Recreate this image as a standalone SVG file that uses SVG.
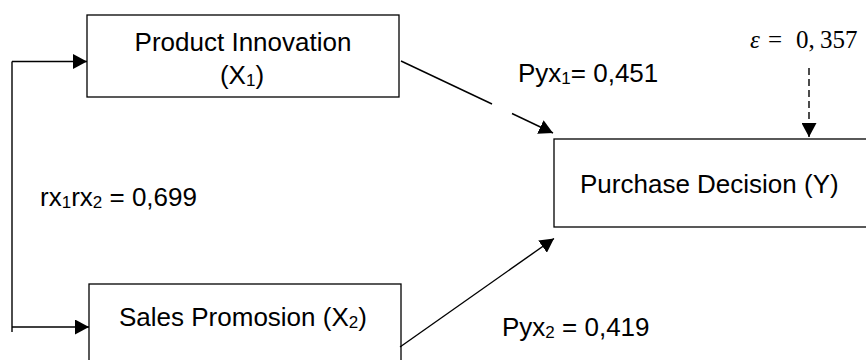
<svg xmlns="http://www.w3.org/2000/svg" width="866" height="360" viewBox="0 0 866 360">
<style>
.box{fill:#fff;stroke:#000;stroke-width:1.3}
.t{font-family:"Liberation Sans",Arial,sans-serif;font-size:26px;fill:#000}
.s{font-size:17px}
.ln{fill:none;stroke:#000;stroke-width:1.4}
.m{font-family:"Liberation Serif","DejaVu Serif",serif;font-size:25px;fill:#000}
</style>
<defs>
<marker id="ah" viewBox="0 0 14 15" refX="14" refY="7.5" markerWidth="14" markerHeight="15" markerUnits="userSpaceOnUse" orient="auto">
<path d="M0,0 L14,7.5 L0,15 Z" fill="#000"/>
</marker>
</defs>
<g id="x1">
<rect class="box" x="87" y="15" width="312" height="82"/>
<text class="t" x="243" y="51" text-anchor="middle">Product Innovation</text>
<text class="t" x="242" y="84" text-anchor="middle">(X<tspan class="s" dy="2">1</tspan><tspan dy="-2">)</tspan></text>
</g>
<g id="y">
<rect class="box" x="554" y="139" width="330" height="88"/>
<text class="t" x="580" y="193">Purchase Decision (Y)</text>
</g>
<g id="x2">
<rect class="box" x="89" y="284" width="312" height="100"/>
<text class="t" x="119" y="326">Sales Promosion (X<tspan class="s" dy="2">2</tspan><tspan dy="-2">)</tspan></text>
</g>
<g id="connectors">
<polyline class="ln" points="12,61.5 12,332"/>
<line class="ln" x1="12" y1="61.5" x2="87" y2="61.5" marker-end="url(#ah)"/>
<line class="ln" x1="12" y1="327" x2="89" y2="327" marker-end="url(#ah)"/>
<line class="ln" x1="401" y1="61" x2="492" y2="104"/>
<line class="ln" x1="512" y1="113.5" x2="553" y2="133" marker-end="url(#ah)"/>
<line class="ln" x1="400" y1="347" x2="554" y2="238.5" marker-end="url(#ah)"/>
<line class="ln" x1="809" y1="68" x2="809" y2="137" stroke-dasharray="7 4" marker-end="url(#ah)"/>
</g>
<g id="labels">
<text class="t" x="518" y="82">Pyx<tspan class="s" dy="2">1</tspan><tspan dy="-2">= 0,451</tspan></text>
<text class="t" x="40" y="206">rx<tspan class="s" dy="2">1</tspan><tspan dy="-2">rx</tspan><tspan class="s" dy="2">2</tspan><tspan dy="-2"> = 0,699</tspan></text>
<text class="t" x="502" y="336">Pyx<tspan class="s" dy="2">2</tspan><tspan dy="-2"> = 0,419</tspan></text>
<text class="m" x="750" y="48"><tspan font-style="italic">ε</tspan><tspan x="768">=</tspan><tspan x="796">0,</tspan><tspan x="820">357</tspan></text>
</g>
</svg>
